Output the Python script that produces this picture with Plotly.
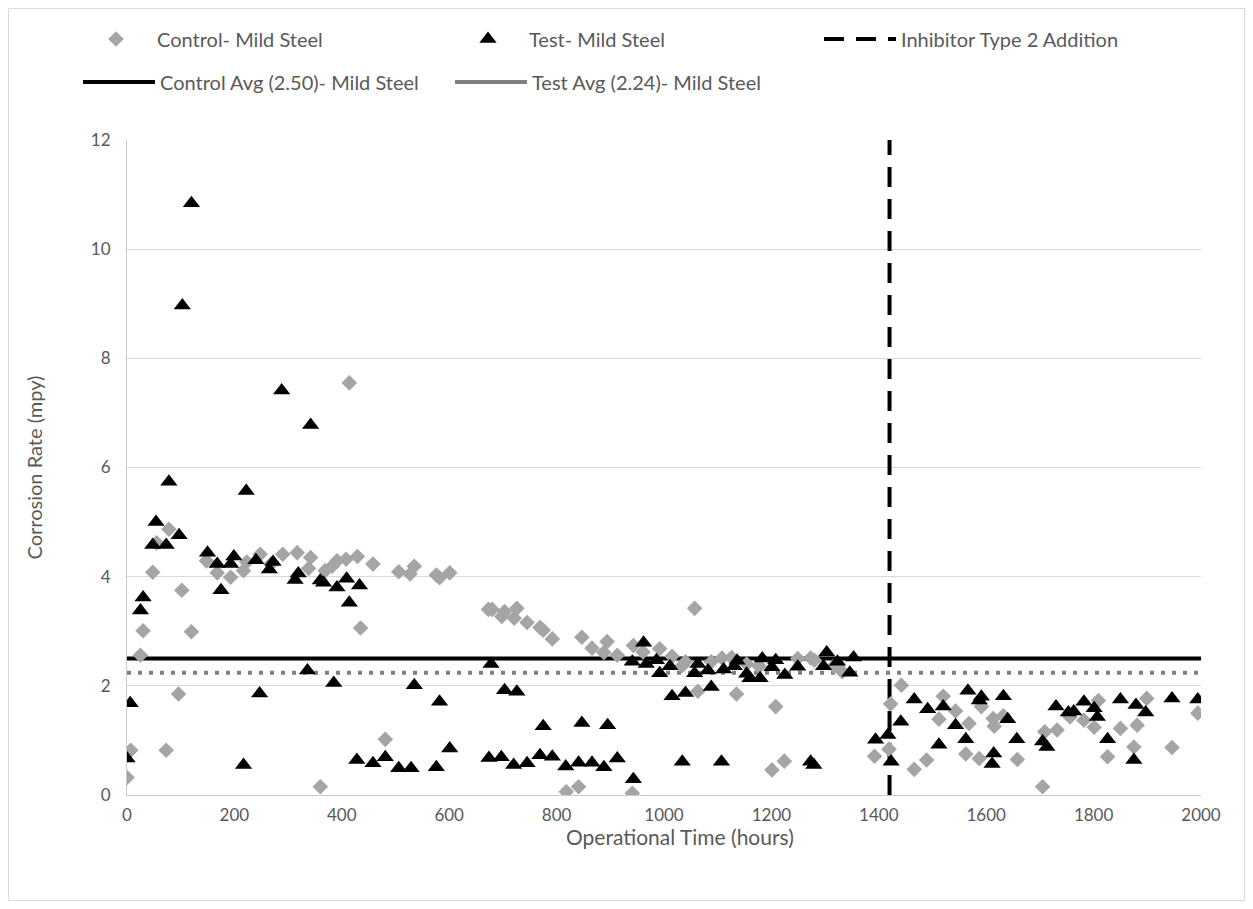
import plotly.graph_objects as go

# ---------------- data ----------------
control_hours = [0, 7, 25, 30, 48, 55, 73, 78, 96, 102, 120, 148, 168, 193, 217, 223, 248, 268, 290, 317,
                 338, 342, 360, 369, 382, 391, 408, 414, 429, 435, 458, 481, 506, 527, 535, 576, 582, 601,
                 673, 680, 698, 703, 721, 726, 745, 769, 775, 792, 818, 841, 847, 866, 888, 894, 913, 941,
                 943, 961, 992, 1015, 1034, 1040, 1057, 1063, 1088, 1108, 1126, 1135, 1154, 1177, 1201,
                 1208, 1224, 1249, 1273, 1280, 1316, 1332, 1392, 1419, 1422, 1442, 1466, 1489, 1512, 1520,
                 1543, 1562, 1568, 1587, 1591, 1613, 1615, 1632, 1658, 1705, 1709, 1732, 1756, 1782, 1801,
                 1809, 1826, 1850, 1875, 1881, 1899, 1946, 1994]
control_rate = [0.32, 0.82, 2.56, 3.01, 4.08, 4.62, 0.82, 4.87, 1.85, 3.75, 2.99, 4.29, 4.07, 3.99, 4.11,
                4.27, 4.41, 4.23, 4.41, 4.44, 4.15, 4.35, 0.15, 4.11, 4.19, 4.29, 4.32, 7.55, 4.37, 3.06,
                4.23, 1.02, 4.09, 4.05, 4.19, 4.03, 3.98, 4.07, 3.40, 3.40, 3.27, 3.36, 3.24, 3.42, 3.16,
                3.07, 3.02, 2.86, 0.06, 0.15, 2.89, 2.69, 2.61, 2.81, 2.56, 0.03, 2.74, 2.62, 2.68, 2.54,
                2.37, 2.44, 3.42, 1.90, 2.44, 2.51, 2.52, 1.85, 2.40, 2.36, 0.46, 1.62, 0.62, 2.50, 2.51,
                2.47, 2.36, 2.26, 0.71, 0.84, 1.67, 2.01, 0.47, 0.64, 1.39, 1.81, 1.54, 0.75, 1.31, 0.67,
                1.62, 1.40, 1.26, 1.45, 0.65, 0.15, 1.16, 1.19, 1.43, 1.37, 1.24, 1.73, 0.70, 1.22, 0.88,
                1.28, 1.77, 0.87, 1.50]

test_hours = [0, 6, 25, 30, 48, 54, 73, 78, 97, 103, 120, 150, 168, 175, 193, 199, 217, 222, 240, 247,
              265, 272, 288, 313, 319, 336, 342, 360, 366, 385, 391, 409, 414, 428, 433, 458, 481, 506,
              529, 535, 576, 582, 601, 674, 678, 697, 703, 720, 726, 745, 769, 775, 792, 817, 841, 847,
              866, 888, 895, 913, 941, 943, 962, 967, 986, 992, 1011, 1015, 1034, 1040, 1057, 1063, 1082,
              1088, 1107, 1111, 1131, 1136, 1154, 1160, 1179, 1183, 1201, 1208, 1225, 1249, 1273, 1279,
              1297, 1303, 1323, 1346, 1353, 1394, 1417, 1423, 1441, 1466, 1491, 1512, 1520, 1543, 1562,
              1566, 1587, 1591, 1611, 1614, 1632, 1640, 1657, 1705, 1713, 1730, 1753, 1763, 1782, 1801,
              1807, 1826, 1850, 1875, 1879, 1897, 1946, 1994]
test_rate = [0.67, 1.68, 3.38, 3.62, 4.58, 5.00, 4.58, 5.74, 4.76, 8.97, 10.84, 4.44, 4.23, 3.75, 4.23,
             4.37, 0.55, 5.57, 4.30, 1.86, 4.13, 4.27, 7.41, 3.94, 4.06, 2.28, 6.78, 3.93, 3.89, 2.05,
             3.80, 3.96, 3.52, 0.64, 3.84, 0.58, 0.69, 0.49, 0.49, 2.01, 0.51, 1.71, 0.85, 0.68, 2.40,
             0.69, 1.92, 0.55, 1.89, 0.58, 0.73, 1.26, 0.70, 0.52, 0.59, 1.32, 0.59, 0.51, 1.28, 0.67,
             2.44, 0.29, 2.79, 2.40, 2.47, 2.23, 2.36, 1.81, 0.61, 1.87, 2.23, 2.40, 2.28, 1.98, 0.61,
             2.30, 2.36, 2.46, 2.22, 2.14, 2.14, 2.50, 2.34, 2.47, 2.20, 2.35, 0.61, 0.55, 2.36, 2.61,
             2.44, 2.24, 2.52, 1.01, 1.10, 0.61, 1.34, 1.75, 1.57, 0.92, 1.62, 1.28, 1.02, 1.91, 1.73,
             1.80, 0.57, 0.76, 1.81, 1.39, 1.02, 0.98, 0.88, 1.62, 1.51, 1.53, 1.71, 1.59, 1.43, 1.02,
             1.75, 0.64, 1.65, 1.51, 1.77, 1.75]

control_avg = 2.50
test_avg = 2.24
inhibitor_hour = 1420
x_range = [0, 2000]
y_range = [0, 12]
x_ticks = list(range(0, 2001, 200))
y_ticks = list(range(0, 13, 2))

# ---------------- figure ----------------
FONT = "Lato"
TXT = "#595959"
W, H = 1237, 893
ML, MR, MT, MB = 119, 44, 132, 106
PW, PH = W - ML - MR, H - MT - MB
ITEMW = 72
SPACING = 372

fig = go.Figure()

# average lines (drawn first, under markers)
fig.add_trace(go.Scatter(x=x_range, y=[control_avg, control_avg], mode="lines",
                         line=dict(color="black", width=4), name="Control Avg (2.50)- Mild Steel",
                         legend="legend2", legendrank=1, hoverinfo="skip"))
fig.add_trace(go.Scatter(x=x_range, y=[test_avg, test_avg], mode="lines",
                         line=dict(color="#7f7f7f", width=4, dash="4px,7px"), showlegend=False,
                         hoverinfo="skip"))
fig.add_trace(go.Scatter(x=[None], y=[None], mode="lines",
                         line=dict(color="#7f7f7f", width=4), name="Test Avg (2.24)- Mild Steel",
                         legend="legend2", legendrank=2))
fig.add_trace(go.Scatter(x=[inhibitor_hour, inhibitor_hour], y=y_range, mode="lines",
                         line=dict(color="black", width=4, dash="20px,12px"),
                         name="Inhibitor Type 2 Addition", legendrank=3, hoverinfo="skip"))

fig.add_trace(go.Scatter(x=control_hours, y=control_rate, mode="markers", name="Control- Mild Steel",
                         marker=dict(symbol="diamond", size=12, color="#a5a5a5"), legendrank=1))
fig.add_trace(go.Scatter(x=test_hours, y=test_rate, mode="markers", name="Test- Mild Steel",
                         marker=dict(symbol="triangle-up", size=15, color="black"), legendrank=2))

legend_common = dict(orientation="h", xanchor="left", yanchor="middle",
                     font=dict(family=FONT, size=20, color=TXT), bgcolor="rgba(0,0,0,0)",
                     entrywidth=SPACING - ITEMW - 15, entrywidthmode="pixels", itemwidth=ITEMW,
                     traceorder="normal")

fig.update_layout(
    width=W, height=H,
    margin=dict(l=ML, r=MR, t=MT, b=MB),
    paper_bgcolor="white", plot_bgcolor="white",
    font=dict(family=FONT, color=TXT),
    legend=dict(x=(67 - ML) / PW, y=(H - MB - 31) / PH, **legend_common),
    legend2=dict(x=(70 - ML) / PW, y=(H - MB - 74) / PH, **legend_common),
    xaxis=dict(range=x_range, tickvals=x_ticks, showgrid=False, zeroline=False,
               showline=True, linecolor="#c9c9c9", linewidth=1,
               tickfont=dict(family=FONT, size=17, color=TXT), ticklabelstandoff=5),
    yaxis=dict(range=y_range, tickvals=y_ticks, showgrid=True, gridcolor="#d9d9d9", gridwidth=1,
               zeroline=False, showline=True, linecolor="#c9c9c9", linewidth=1,
               tickfont=dict(family=FONT, size=17, color=TXT), ticklabelstandoff=12,
               title=dict(text="Corrosion Rate (mpy)", font=dict(family=FONT, size=20, color=TXT),
                          standoff=42)),
    annotations=[dict(text="Operational Time (hours)", xref="paper", yref="paper",
                      x=(672 - ML) / PW, y=(H - MB - 828) / PH, xanchor="center", yanchor="middle",
                      showarrow=False, font=dict(family=FONT, size=21, color=TXT))],
    shapes=[dict(type="rect", xref="paper", yref="paper",
                 x0=(0.5 - ML) / PW, x1=(W - 0.5 - ML) / PW,
                 y0=(0.5 - MB) / PH, y1=(H - 0.5 - MB) / PH,
                 line=dict(color="#d9d9d9", width=1), layer="below")],
    showlegend=True,
)

fig.write_html("out.html")
